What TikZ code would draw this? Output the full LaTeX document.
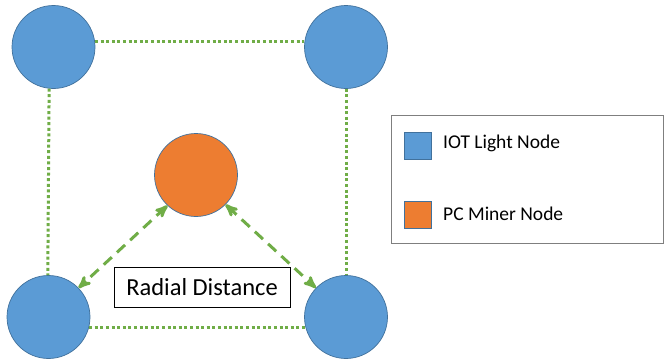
\documentclass[tikz,border=0pt]{standalone}
\usepackage{fontspec}
\setmainfont{Carlito}
\usepackage{tikz}
\usetikzlibrary{arrows}

\definecolor{iotblue}{HTML}{5B9BD5}
\definecolor{shapeedge}{HTML}{41719C}
\definecolor{minerorange}{HTML}{ED7D31}
\definecolor{linkgreen}{HTML}{70AD47}
\definecolor{legendgray}{HTML}{7F7F7F}

\begin{document}
\begin{tikzpicture}[x=1pt,y=-1pt,>=stealth',
  iot node/.style={circle,fill=iotblue,draw=shapeedge,line width=0.7pt,minimum size=83pt,inner sep=0pt},
  miner node/.style={circle,fill=minerorange,draw=shapeedge,line width=0.7pt,minimum size=83pt,inner sep=0pt},
  key node/.style={rectangle,draw=shapeedge,line width=0.7pt,minimum size=27pt,inner sep=0pt},
  text node/.style={font=\fontsize{19.5}{22}\selectfont,anchor=west,inner sep=0pt},
  grid link/.style={linkgreen,line width=3pt,dash pattern=on 3pt off 2.6pt},
  radial link/.style={<->,linkgreen,line width=3pt,dash pattern=on 11pt off 7pt}]

  \useasboundingbox (0,0) rectangle (664,362);

  % mesh of light nodes
  \node[iot node] (1) at (53.5,47) {};
  \node[iot node] (2) at (346,47) {};
  \node[iot node] (3) at (48.5,317) {};
  \node[iot node] (4) at (346,317) {};
  \node[miner node] (5) at (196,175) {};

  \node[rectangle,draw=black,line width=1pt,minimum width=176pt,minimum height=40pt,
    font=\fontsize{24.5}{28}\selectfont] (6) at (202,287) {Radial Distance};

  \path[grid link]
    (1.7) edge (2.173)
    (1.264) edge (3.91)
    (2.270) edge (4.90)
    (3.-14) edge (4.194);

  \path[radial link]
    (5.227) edge (3.44)
    (5.315) edge (4.136);

  % legend
  \node[rectangle,draw=legendgray,line width=1pt,minimum width=272pt,minimum height=128pt] (7) at (527.5,179) {};
  \node[key node,fill=iotblue] (8) at (417.5,145.5) {};
  \node[key node,fill=minerorange] (9) at (417.5,215) {};
  \node[text node] (10) at (443,143.5) {IOT Light Node};
  \node[text node] (11) at (443,214) {PC Miner Node};
\end{tikzpicture}
\end{document}
